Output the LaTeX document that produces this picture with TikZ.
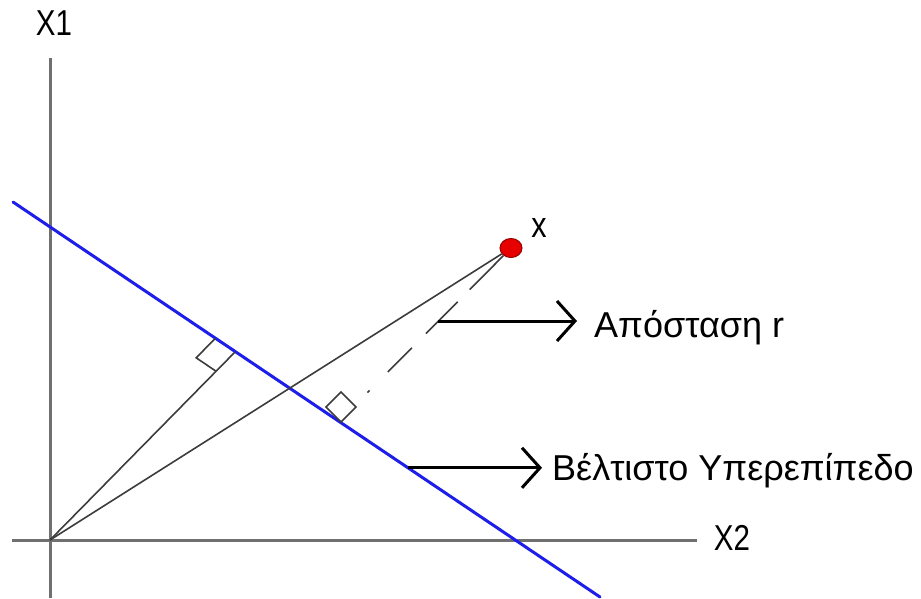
\documentclass[tikz,border=0pt]{standalone}
\usepackage{fontspec}
\usepackage{graphicx}
\setmainfont{Liberation Sans}
\usetikzlibrary{arrows.meta,calc,shapes.geometric}
\definecolor{axisgray}{RGB}{112,112,112}
\definecolor{linegray}{RGB}{60,60,60}
\definecolor{hyperblue}{RGB}{30,30,235}
\definecolor{ptred}{RGB}{230,0,0}
\definecolor{ptdark}{RGB}{150,0,0}
\begin{document}
\begin{tikzpicture}[x=1pt,y=-1pt,
  axis/.style={draw=axisgray,line width=3pt},
  hyper/.style={draw=hyperblue,line width=3pt,line cap=round},
  thinline/.style={draw=linegray,line width=1.6pt},
  pointer/.style={draw=black,line width=3pt,-{Straight Barb[length=18pt,width=40pt]}},
  lbl/.style={inner sep=0pt,font=\fontsize{36}{40}\selectfont}
]
\useasboundingbox (0,0) rectangle (921,598);
% axes
\coordinate (O) at (50,540);
\coordinate (ytop) at (50,58);
\coordinate (ybot) at (50,598);
\coordinate (xleft) at (12,540);
\coordinate (xright) at (697,540);
\draw[axis] (ybot) -- (ytop);
\draw[axis] (xleft) -- (xright);
\node[lbl] (X1) at (54,23) {\scalebox{0.82}[1]{X1}};
\node[lbl] (X2) at (732,538) {\scalebox{0.82}[1]{X2}};
% hyperplane
\coordinate (B1) at (13,202);
\coordinate (B2) at (600,597);
\draw[hyper] (B1) -- (B2);
% point x
\node[ellipse,fill=ptred,draw=ptdark,line width=1pt,minimum width=22pt,minimum height=19pt,inner sep=0pt] (X) at (511,248) {};
\node[lbl] (xlab) at (539,228) {\scalebox{0.85}[1]{x}};
% lines from origin
\coordinate (F1) at (235,352);
\draw[thinline] (O) -- (F1);
\draw[thinline] (O) -- (X);
% right angle 1
\coordinate (S1a) at ($(F1)!27pt!(O)$);
\coordinate (S1c) at ($(F1)!24pt!(B1)$);
\draw[thinline] (S1a) -- ($(S1a)+(S1c)-(F1)$) -- (S1c);
% right angle 2
\coordinate (F2) at (341,422);
\draw[thinline] (F2) -- ++(15,-15) -- ++(-15,-15) -- ++(-15,15) -- cycle;
% distance (dashed)
\coordinate (E) at (366,394);
\draw[thinline,dash pattern=on 48pt off 17pt on 45pt off 20pt on 34pt off 26pt on 3pt off 80pt] (X) -- (E);
% labels with arrows
\coordinate (A1) at (438,321);
\node[lbl,anchor=base west,inner xsep=17pt] (t1) at (577,337) {Απόσταση r};
\draw[pointer] (A1) -- (A1 -| t1.west);
\coordinate (A2) at ($(B1)!0.6729!(B2)$);
\node[lbl,anchor=base west,inner xsep=10pt] (t2) at (542,480) {Βέλτιστο Υπερεπίπεδο};
\draw[pointer] (A2) -- (A2 -| t2.west);
\end{tikzpicture}
\end{document}
